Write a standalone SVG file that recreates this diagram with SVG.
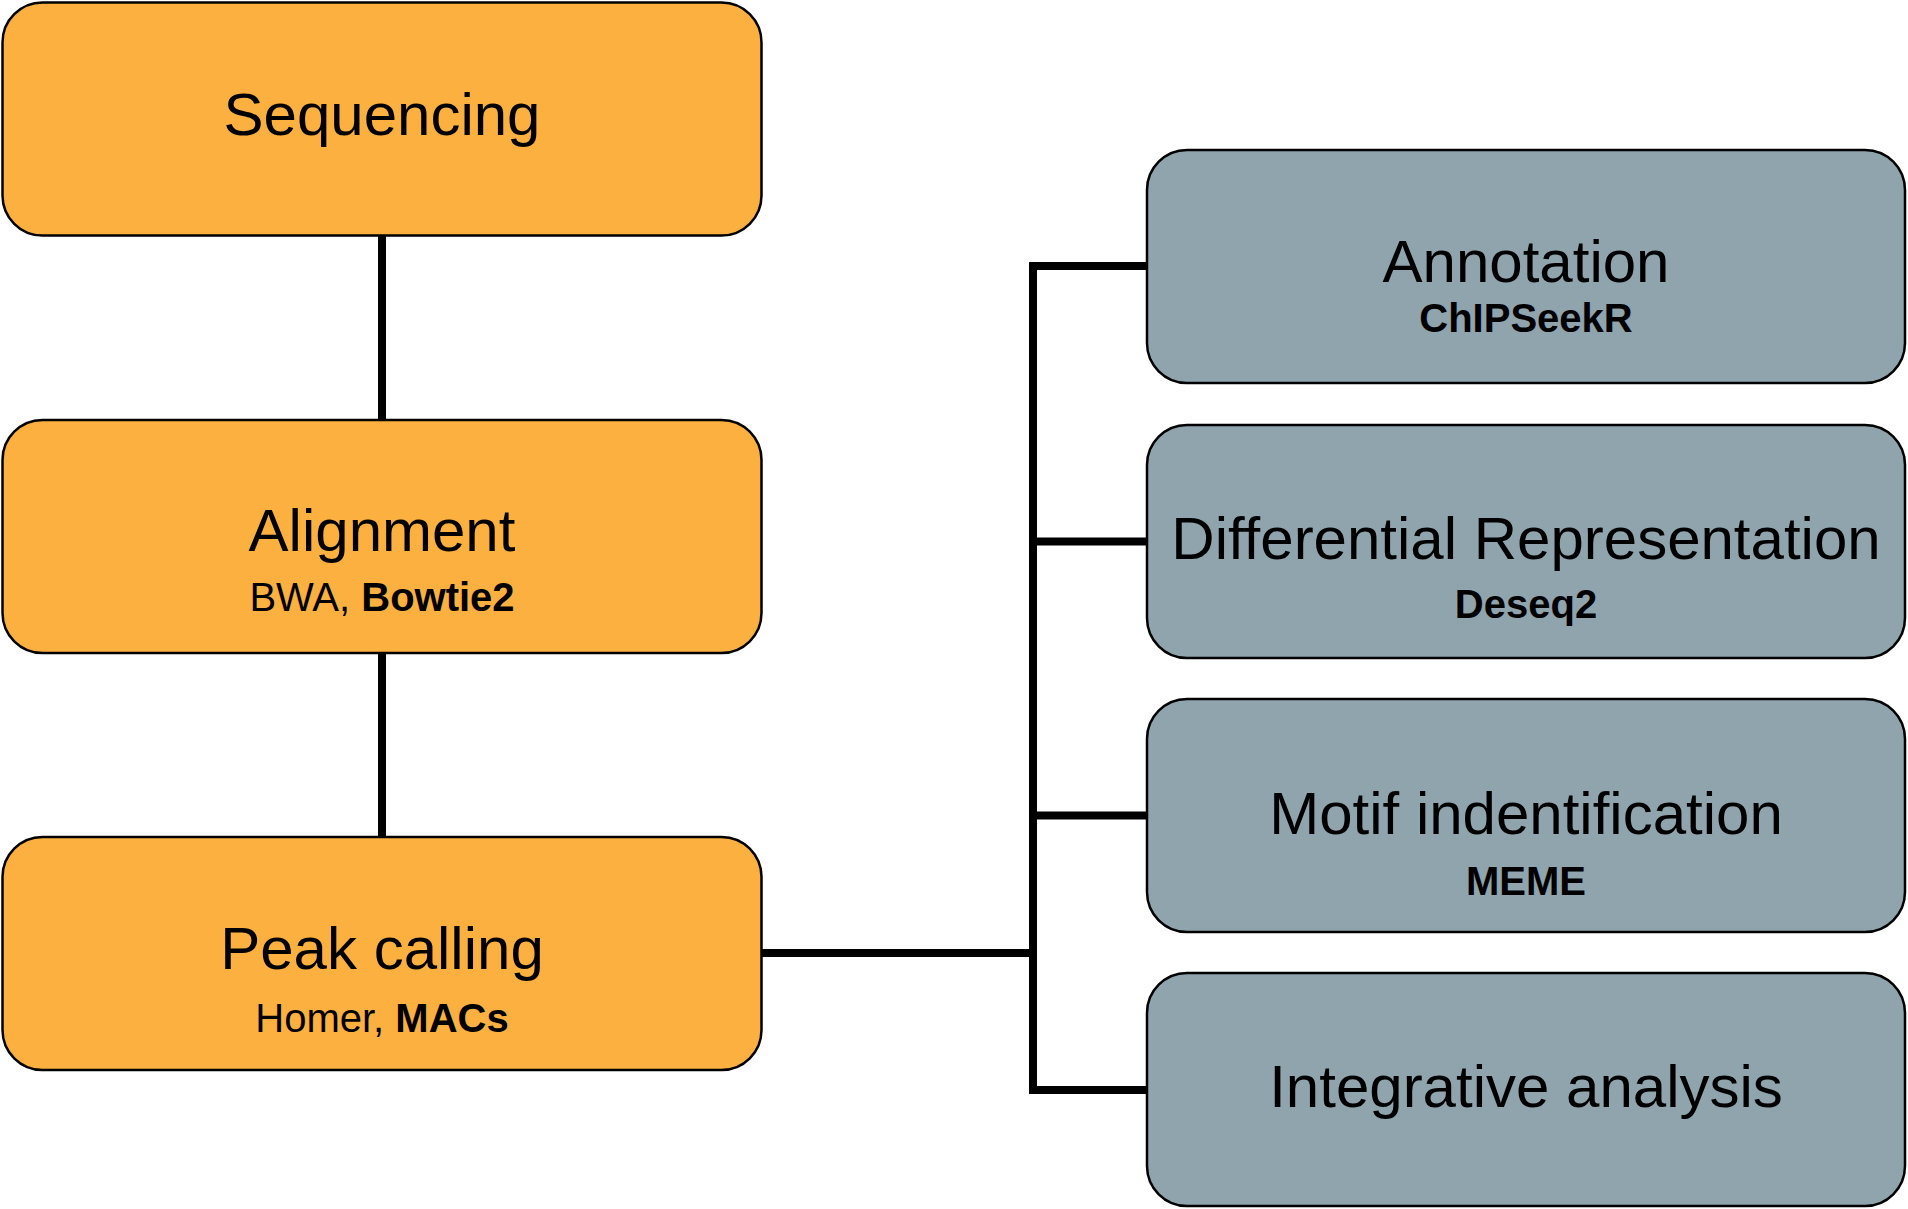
<svg xmlns="http://www.w3.org/2000/svg" width="1908" height="1209" viewBox="0 0 1908 1209">
<style>
.orange{fill:#FBB040;stroke:#000;stroke-width:2.5}
.gray{fill:#90A4AE;stroke:#000;stroke-width:2.5}
.main{font-family:"Liberation Sans",Arial,sans-serif;font-size:60px;fill:#000;text-anchor:middle}
.sub{font-family:"Liberation Sans",Arial,sans-serif;font-size:40px;fill:#000;text-anchor:middle}
.b{font-weight:bold}
.conn{fill:none;stroke:#000;stroke-width:8;stroke-linejoin:miter;stroke-linecap:butt}
</style>
<rect width="1908" height="1209" fill="#fff"/>
<g id="connectors">
<path class="conn" d="M382 236V420"/>
<path class="conn" d="M382 653V837"/>
<path class="conn" d="M762 953H1033"/>
<path class="conn" d="M1147 266H1033V1090H1151"/>
<path class="conn" d="M1033 541.5H1147"/>
<path class="conn" d="M1033 815.5H1147"/>
</g>
<g id="sequencing">
<rect class="orange" x="2.5" y="2.5" width="759" height="233" rx="40"/>
<text class="main" x="382" y="135">Sequencing</text>
</g>
<g id="alignment">
<rect class="orange" x="2.5" y="420" width="759" height="233" rx="40"/>
<text class="main" x="382" y="551">Alignment</text>
<text class="sub" x="382" y="611">BWA, <tspan class="b">Bowtie2</tspan></text>
</g>
<g id="peak-calling">
<rect class="orange" x="2.5" y="837" width="759" height="233" rx="40"/>
<text class="main" x="382" y="969">Peak calling</text>
<text class="sub" x="382" y="1032">Homer, <tspan class="b">MACs</tspan></text>
</g>
<g id="annotation">
<rect class="gray" x="1147" y="150" width="758" height="233" rx="40"/>
<text class="main" x="1526" y="282">Annotation</text>
<text class="sub b" x="1526" y="332">ChIPSeekR</text>
</g>
<g id="differential">
<rect class="gray" x="1147" y="425" width="758" height="233" rx="40"/>
<text class="main" x="1526" y="559">Differential Representation</text>
<text class="sub b" x="1526" y="618">Deseq2</text>
</g>
<g id="motif">
<rect class="gray" x="1147" y="699" width="758" height="233" rx="40"/>
<text class="main" x="1526" y="834">Motif indentification</text>
<text class="sub b" x="1526" y="895">MEME</text>
</g>
<g id="integrative">
<rect class="gray" x="1147" y="973" width="758" height="233" rx="40"/>
<text class="main" x="1526" y="1107">Integrative analysis</text>
</g>
</svg>
